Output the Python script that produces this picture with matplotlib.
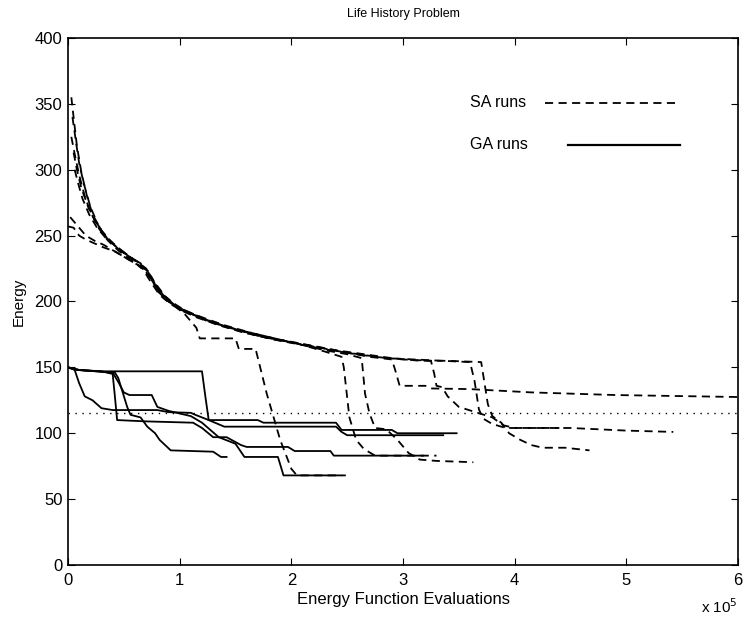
import matplotlib
matplotlib.use("Agg")
import matplotlib.pyplot as plt

plt.rcParams['font.family'] = ['Liberation Sans', 'DejaVu Sans']

# x in units of 1e5 energy function evaluations
x_ticks = [0, 1, 2, 3, 4, 5, 6]
y_ticks = [0, 50, 100, 150, 200, 250, 300, 350, 400]
target_level = 115

# SA runs (dashed)
sa1_x = [0.03, 0.05, 0.08, 0.12, 0.17, 0.22, 0.3, 0.38, 0.48, 0.6, 0.7, 0.78, 0.85, 0.95, 1.05, 1.15,
         1.18, 1.5, 1.53, 1.68, 1.78, 1.9, 2.0, 2.05, 2.45]
sa1_y = [355, 340, 318, 298, 280, 266, 254, 246, 238, 231, 224, 212, 203, 197, 190, 180,
         172, 172, 164, 164, 130, 95, 73, 68, 68]

sa2_x = [0.04, 0.07, 0.1, 0.14, 0.2, 0.27, 0.35, 0.45, 0.55, 0.65, 0.72, 0.8, 0.9, 1.0, 1.15, 1.3,
         1.5, 1.7, 1.9, 2.1, 2.3, 2.45, 2.47, 2.52, 2.58, 2.65, 2.75, 3.3]
sa2_y = [340, 322, 305, 290, 272, 258, 248, 240, 234, 229, 222, 208, 200, 194, 189, 184,
         179, 175, 171, 167, 162, 158, 150, 112, 95, 88, 83, 83]

sa3_x = [0.03, 0.06, 0.1, 0.15, 0.2, 0.28, 0.36, 0.46, 0.56, 0.66, 0.74, 0.82, 0.92, 1.02, 1.15,
         1.35, 1.55, 1.8, 2.05, 2.3, 2.5, 2.63, 2.66, 2.7, 2.75, 2.85, 2.95, 3.05, 3.15, 3.3, 3.63]
sa3_y = [325, 312, 296, 280, 268, 255, 246, 238, 232, 226, 215, 205, 198, 193, 188,
         182, 177, 172, 168, 163, 160, 157, 130, 115, 104, 103, 95, 85, 80, 79, 78]

sa4_x = [0.05, 0.08, 0.12, 0.18, 0.25, 0.33, 0.42, 0.52, 0.62, 0.7, 0.78, 0.87, 0.97, 1.1, 1.25,
         1.45, 1.7, 1.95, 2.2, 2.45, 2.7, 2.9, 2.93, 2.97, 3.2, 3.25, 3.6, 4.15, 4.9, 6.0]
sa4_y = [313, 300, 286, 272, 260, 250, 243, 236, 230, 225, 214, 204, 196, 191, 185,
         180, 174, 170, 166, 162, 158, 156, 148, 136, 136, 134, 133.5, 131, 129, 127.5]

sa5_x = [0.06, 0.09, 0.13, 0.19, 0.26, 0.34, 0.44, 0.54, 0.64, 0.72, 0.8, 0.9, 1.0, 1.15, 1.3,
         1.5, 1.75, 2.0, 2.25, 2.5, 2.75, 3.0, 3.25, 3.28, 3.3, 3.35, 3.4, 3.5, 3.65, 3.8, 3.9,
         4.0, 4.4]
sa5_y = [300, 290, 278, 266, 256, 248, 241, 235, 229, 223, 210, 201, 195, 189, 184,
         179, 173, 169, 165, 161, 158, 156, 155, 145, 136, 135, 128, 120, 116, 112, 106,
         104, 104]

sa6_x = [0.02, 0.06, 0.1, 0.16, 0.24, 0.32, 0.42, 0.52, 0.62, 0.7, 0.78, 0.86, 0.96, 1.08, 1.22,
         1.4, 1.6, 1.85, 2.1, 2.35, 2.6, 2.85, 3.1, 3.35, 3.6, 3.64, 3.68, 3.72, 3.8, 3.92, 4.5,
         5.0, 5.42]
sa6_y = [264, 260, 256, 250, 246, 243, 238, 233, 228, 222, 213, 204, 197, 192, 187,
         181, 176, 171, 167, 163, 160, 157, 156, 155, 154, 140, 118, 111, 107, 104, 104,
         102, 101]

sa7_x = [0.0, 0.05, 0.1, 0.16, 0.24, 0.32, 0.42, 0.5, 0.58, 0.68, 0.76, 0.84, 0.94, 1.05, 1.2,
         1.4, 1.65, 1.9, 2.15, 2.4, 2.65, 2.9, 3.15, 3.4, 3.7, 3.73, 3.76, 3.8, 3.88, 3.95, 4.05,
         4.15, 4.25, 4.45, 4.67]
sa7_y = [257, 256, 250, 247, 244, 241, 238, 234, 230, 225, 216, 206, 199, 193, 188,
         182, 176, 171, 167, 163, 160, 157, 155, 155, 154, 138, 122, 113, 108, 100, 95,
         91, 89, 89, 87]

# GA runs (solid)
ga1_x = [0, 0.08, 0.3, 1.2, 1.23, 1.26, 1.4, 2.4, 2.45, 2.5, 3.36]
ga1_y = [150, 148, 147, 147, 128, 110, 105, 105, 101, 98.5, 98.5]

ga2_x = [0, 0.06, 0.1, 0.15, 0.22, 0.3, 0.4, 0.8, 0.9, 1.1, 1.14, 1.26, 1.7, 1.75, 2.4, 2.45,
         2.9, 2.95, 3.48]
ga2_y = [150, 148, 138, 128, 125, 119, 117.6, 117.6, 116, 115.5, 114, 110, 110, 108, 108, 102.5,
         102.5, 100, 100]

ga3_x = [0, 0.1, 0.3, 0.4, 0.42, 0.44, 0.7, 1.12, 1.2, 1.3, 1.42, 1.55, 1.6, 1.97, 2.03, 2.35,
         2.38, 3.18]
ga3_y = [150, 148, 147, 145, 128, 110, 109, 108, 104, 97, 97, 91, 89.6, 89.6, 86.5, 86.5,
         83, 83]

ga4_x = [0, 0.1, 0.4, 0.45, 0.5, 0.55, 0.75, 0.8, 0.9, 1.1, 1.2, 1.35, 1.5, 1.58, 1.88, 1.93,
         2.48]
ga4_y = [150, 148, 146, 139, 131, 129, 129, 120, 117, 113, 108, 97, 92, 82, 82, 68, 68]

ga5_x = [0, 0.1, 0.42, 0.45, 0.53, 0.56, 0.65, 0.71, 0.78, 0.82, 0.92, 1.3, 1.37, 1.42]
ga5_y = [150, 148, 146, 142, 120, 114, 112, 105, 100, 95, 87, 86, 82, 82]

sa_runs = [(sa1_x, sa1_y), (sa2_x, sa2_y), (sa3_x, sa3_y), (sa4_x, sa4_y),
           (sa5_x, sa5_y), (sa6_x, sa6_y), (sa7_x, sa7_y)]
ga_runs = [(ga1_x, ga1_y), (ga2_x, ga2_y), (ga3_x, ga3_y), (ga4_x, ga4_y), (ga5_x, ga5_y)]

fig = plt.figure(figsize=(7.43, 6.17), dpi=100)
ax = fig.add_axes([0.0915, 0.0843, 0.9018, 0.8541])

for xs, ys in sa_runs:
    ax.plot(xs, ys, color="black", linewidth=1.3, linestyle=(0, (4.5, 3)))
for xs, ys in ga_runs:
    ax.plot(xs, ys, color="black", linewidth=1.3)

ax.axhline(target_level, color="black", linewidth=1.0, linestyle=(0, (1, 4)))

# hand-placed legend like the original
ax.text(0.60, 0.877, "SA runs", transform=ax.transAxes, fontsize=11.5, va="center")
ax.plot([0.712, 0.913], [0.877, 0.877], transform=ax.transAxes, color="black",
        linewidth=1.3, linestyle=(0, (4.5, 3)))
ax.text(0.60, 0.797, "GA runs", transform=ax.transAxes, fontsize=11.5, va="center")
ax.plot([0.746, 0.913], [0.797, 0.797], transform=ax.transAxes, color="black", linewidth=1.6)

ax.set_xlim(0, 6)
ax.set_ylim(0, 400)
ax.set_xticks(x_ticks)
ax.set_yticks(y_ticks)
ax.tick_params(direction="in", top=True, right=True, length=5, labelsize=12)
ax.tick_params(axis="x", pad=6)
ax.tick_params(axis="y", pad=4)
for s in ax.spines.values():
    s.set_linewidth(1.2)

ax.set_title("Life History Problem", fontsize=9, pad=15)
ax.set_xlabel("Energy Function Evaluations", fontsize=12, labelpad=3)
ax.set_ylabel("Energy", fontsize=11, labelpad=6)
ax.text(1.0, -0.092, r"x 10$^5$", transform=ax.transAxes, ha="right", va="baseline", fontsize=11)

fig.savefig("out.png", dpi=100)
